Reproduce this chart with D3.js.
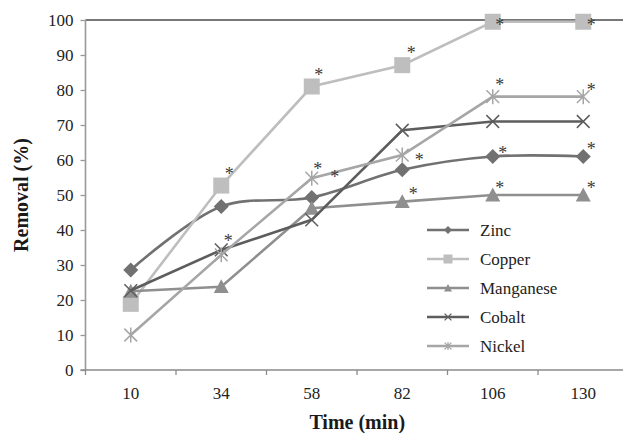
<!DOCTYPE html>
<html>
<head>
<meta charset="utf-8">
<script src="https://cdn.jsdelivr.net/npm/d3@7"></script>
<style>
  html, body { margin: 0; padding: 0; background: #fff; }
  svg { display: block; }
  svg text { font-family: "Liberation Serif", "Times New Roman", Tinos, "DejaVu Serif", serif; }
</style>
</head>
<body>
<svg id="chart" width="623" height="433"></svg>
<script>
// Sampling times (min)
const times = [10, 34, 58, 82, 106, 130];
// Removal (%) per metal
const zinc      = [28.6, 46.7, 49.3, 57.2, 61.0, 61.0];
const copper    = [18.9, 52.7, 81.0, 87.1, 99.5, 99.5];
const manganese = [22.5, 23.8, 46.2, 48.1, 50.0, 50.0];
const cobalt    = [22.7, 34.3, 42.9, 68.5, 71.0, 71.0];
const nickel    = [10.0, 32.9, 54.8, 61.4, 78.1, 78.1];
const seriesNames = ["Zinc", "Copper", "Manganese", "Cobalt", "Nickel"];
const yTicks = [0, 10, 20, 30, 40, 50, 60, 70, 80, 90, 100];
// Significance flags: [series, time]
const flags = [
  ["Copper", 34], ["Copper", 58], ["Copper", 82], ["Copper", 106], ["Copper", 130],
  ["Cobalt", 34], ["Nickel", 58], ["Zinc", 58], ["Zinc", 82], ["Manganese", 82],
  ["Nickel", 106], ["Nickel", 130], ["Zinc", 106], ["Zinc", 130],
  ["Manganese", 106], ["Manganese", 130]
];
// Pixel offsets of each flag from its marker
const flagOffsets = [
  [8, -15], [7, -15], [9, -15], [7, 0], [8, 0],
  [7, -12], [6, -12], [23, -23], [17, -13], [11, -11],
  [7, -15], [8, -10], [10, -7], [8, -11],
  [7, -10], [8, -10]
];

const values = { Zinc: zinc, Copper: copper, Manganese: manganese, Cobalt: cobalt, Nickel: nickel };
const style = {
  Zinc:      { color: "#717171", marker: "diamond",  smooth: true },
  Copper:    { color: "#bebebe", marker: "square",   smooth: false },
  Manganese: { color: "#8f8f8f", marker: "triangle", smooth: false },
  Cobalt:    { color: "#5d5d5d", marker: "cross",    smooth: false },
  Nickel:    { color: "#a6a6a6", marker: "star",     smooth: false }
};

const svg = d3.select("#chart");
const plotLeft = 85.5, plotRight = 628.5, plotTop = 20, plotBottom = 370;

const x = d3.scalePoint().domain(times).range([plotLeft, plotRight]).padding(0.5);
const step = x.step();
const y = d3.scaleLinear().domain([0, 100]).range([plotBottom, plotTop]);

// Top border line at 100%
svg.append("line")
  .attr("x1", plotLeft).attr("x2", 623).attr("y1", y(100)).attr("y2", y(100))
  .attr("stroke", "#4a4a4a").attr("stroke-width", 1.6);

// Y axis
const yAxis = svg.append("g").attr("transform", `translate(${plotLeft},0)`)
  .call(d3.axisLeft(y).tickValues(yTicks).tickSize(5).tickPadding(7).tickFormat(d3.format("d")));
yAxis.attr("font-family", null);
yAxis.select(".domain").attr("stroke", "#9a9a9a").attr("stroke-width", 1.6).attr("d", `M0,${plotTop}V${plotBottom}`);
yAxis.selectAll(".tick line").attr("stroke", "#9a9a9a").attr("stroke-width", 1.3);
yAxis.selectAll(".tick text").attr("font-size", 17).attr("fill", "#222");
yAxis.attr("font-size", null);

// X axis: category boundaries carry the ticks, labels sit at category centres
const xg = svg.append("g");
xg.append("line").attr("x1", plotLeft - 5).attr("x2", 623).attr("y1", plotBottom).attr("y2", plotBottom)
  .attr("stroke", "#8a8a8a").attr("stroke-width", 1.6);
const bounds = d3.range(times.length + 1).map(i => plotLeft + i * step);
xg.selectAll("line.tk").data(bounds).join("line").attr("class", "tk")
  .attr("x1", d => d).attr("x2", d => d).attr("y1", plotBottom).attr("y2", plotBottom + 5)
  .attr("stroke", "#8a8a8a").attr("stroke-width", 1.3);
xg.selectAll("text").data(times).join("text")
  .attr("x", d => x(d)).attr("y", plotBottom + 29).attr("text-anchor", "middle")
  .attr("font-size", 17).attr("fill", "#222").text(d => d);

// Axis titles
svg.append("text").attr("x", (plotLeft + 623) / 2 + 3).attr("y", 429).attr("text-anchor", "middle")
  .attr("font-size", 20).attr("font-weight", "bold").attr("fill", "#1a1a1a").text("Time (min)");
svg.append("text").attr("transform", `translate(28,${(plotTop + plotBottom) / 2}) rotate(-90)`)
  .attr("text-anchor", "middle").attr("font-size", 20).attr("font-weight", "bold").attr("fill", "#1a1a1a")
  .text("Removal (%)");

function drawMarker(g, type, s, color) {
  if (type === "diamond") {
    g.append("path").attr("d", `M0,${-s}L${s},0L0,${s}L${-s},0Z`).attr("fill", color);
  } else if (type === "square") {
    g.append("rect").attr("x", -s).attr("y", -s).attr("width", 2 * s).attr("height", 2 * s).attr("fill", color);
  } else if (type === "triangle") {
    g.append("path").attr("d", `M0,${-s}L${s},${s * 0.85}L${-s},${s * 0.85}Z`).attr("fill", color);
  } else if (type === "cross" || type === "star") {
    const c = s * 0.85;
    g.append("path").attr("d", `M${-c},${-c}L${c},${c}M${-c},${c}L${c},${-c}` + (type === "star" ? `M0,${-s}V${s}` : ""))
      .attr("stroke", color).attr("stroke-width", Math.max(1.3, s / 5)).attr("fill", "none");
  }
}

// Series lines and markers
seriesNames.forEach(name => {
  const st = style[name];
  const pts = times.map((t, i) => [x(t), y(values[name][i])]);
  const line = d3.line().curve(st.smooth ? d3.curveCatmullRom.alpha(0.5) : d3.curveLinear);
  svg.append("path").attr("d", line(pts)).attr("fill", "none")
    .attr("stroke", st.color).attr("stroke-width", 2.6);
  pts.forEach(p => {
    const g = svg.append("g").attr("transform", `translate(${p[0]},${p[1]})`);
    drawMarker(g, st.marker, st.marker === "square" ? 8 : 7.5, st.color);
  });
});

// Significance asterisks
flags.forEach((f, i) => {
  const [name, t] = f;
  const v = values[name][times.indexOf(t)];
  const [dx, dy] = flagOffsets[i];
  svg.append("text").attr("x", x(t) + dx).attr("y", y(v) + dy + 9)
    .attr("text-anchor", "middle").attr("font-size", 18).attr("fill", "#3a3a3a").text("*");
});

// Legend
const legend = svg.append("g");
seriesNames.forEach((name, i) => {
  const st = style[name];
  const ly = 230 + i * 29;
  legend.append("line").attr("x1", 427).attr("x2", 469).attr("y1", ly).attr("y2", ly)
    .attr("stroke", st.color).attr("stroke-width", 2.6);
  const g = legend.append("g").attr("transform", `translate(448,${ly})`);
  drawMarker(g, st.marker, st.marker === "square" ? 4.5 : 4, st.color);
  legend.append("text").attr("x", 480).attr("y", ly + 6).attr("font-size", 17).attr("fill", "#222").text(name);
});
</script>
</body>
</html>
